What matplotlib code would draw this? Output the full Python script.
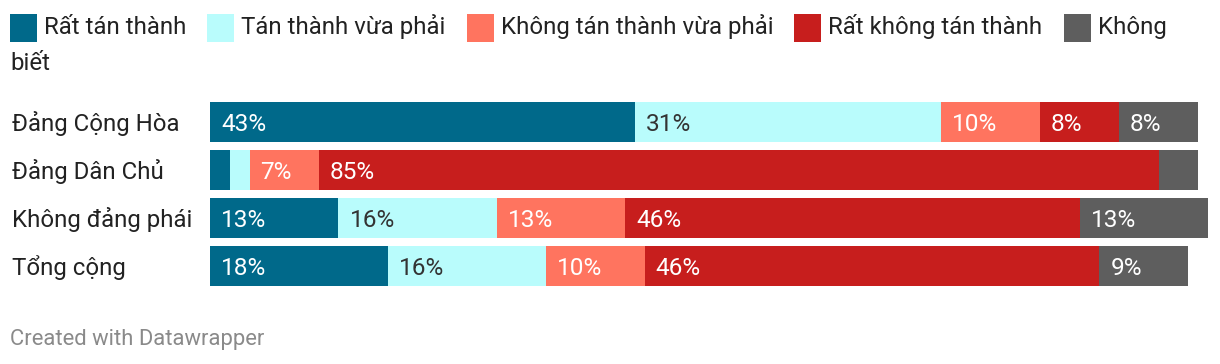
import matplotlib
matplotlib.use("Agg")
import matplotlib.pyplot as plt
from matplotlib.patches import Rectangle

plt.rcParams['font.family'] = ['Roboto', 'DejaVu Sans']

groups = ["Đảng Cộng Hòa", "Đảng Dân Chủ", "Không đảng phái", "Tổng cộng"]
answers = ["Rất tán thành", "Tán thành vừa phải", "Không tán thành vừa phải",
           "Rất không tán thành", "Không biết"]
very_agree = [43, 2, 13, 18]
agree = [31, 2, 16, 16]
disagree = [10, 7, 13, 10]
very_disagree = [8, 85, 46, 46]
dont_know = [8, 4, 13, 9]

series = [very_agree, agree, disagree, very_disagree, dont_know]
colors = ["#00698a", "#b9fcfc", "#ff745f", "#c71e1d", "#5e5e5e"]
text_colors = ["white", "#333333", "white", "white", "white"]

FS = 17.3
PX = 72 / 100  # points per pixel

W, H = 1220, 364
fig = plt.figure(figsize=(W / 100, H / 100), dpi=100)

# bar area in pixels: x 210..1208, rows start at y=98, 48px each
ax = fig.add_axes([210 / W, (H - 290) / H, 998 / W, 192 / H])
ax.set_xlim(0, 101)
ax.set_ylim(len(groups) - 0.5, -0.5)
ax.axis("off")

ypos = list(range(len(groups)))
left = [0] * len(groups)
for vals, col, tcol in zip(series, colors, text_colors):
    ax.barh(ypos, vals, left=left, height=40 / 48, color=col, linewidth=0)
    for i, v in enumerate(vals):
        if v > 4:
            ax.annotate(f"{v}%", (left[i], i), xytext=(11 * PX, -8.8 * PX),
                        textcoords="offset points", ha="left", va="baseline",
                        fontsize=17.6, color=tcol)
    left = [l + v for l, v in zip(left, vals)]

for i, g in enumerate(groups):
    ax.annotate(g, (0, i), xytext=(-198 * PX, -8.5 * PX), textcoords="offset points",
                ha="left", va="baseline", fontsize=FS, color="#222222")

# legend, wrapped like the html one
fig.canvas.draw()
renderer = fig.canvas.get_renderer()
x = 10
y = 34.3
maxw = 1200
for name, col in zip(answers, colors):
    fig.add_artist(Rectangle((x / W, (H - 42) / H), 27 / W, 28 / H,
                             transform=fig.transFigure, color=col, lw=0))
    x += 34
    words = name.split(" ")
    line = ""
    for w in words:
        trial = (line + " " + w).strip()
        t = fig.text(0, 0, trial, fontsize=FS)
        tw = t.get_window_extent(renderer).width
        t.remove()
        if x + tw > maxw and line:
            fig.text(x / W, (H - y) / H, line, fontsize=FS, color="#222222", va="baseline")
            x = 10
            y += 35.7
            line = w
        else:
            line = trial
    t = fig.text(x / W, (H - y) / H, line, fontsize=FS, color="#222222", va="baseline")
    x += t.get_window_extent(renderer).width + 21

fig.text(10 / W, (H - 339) / H, "Created with Datawrapper", fontsize=15.8,
         color="#8a8a8a", va="center")

fig.savefig("out.png", dpi=100, facecolor="white")
